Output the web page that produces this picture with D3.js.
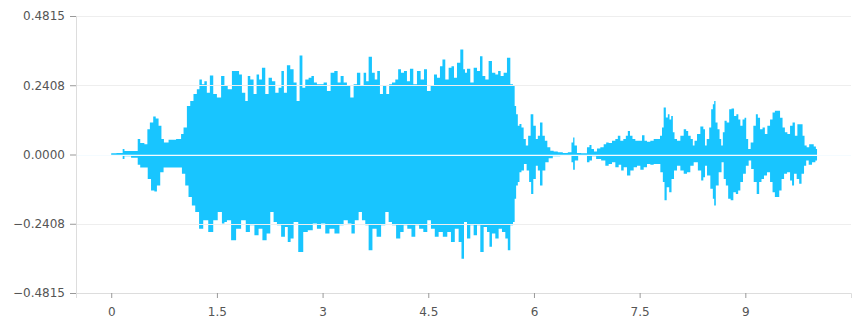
<!DOCTYPE html>
<html>
<head>
<meta charset="utf-8">
<script src="https://cdn.jsdelivr.net/npm/d3@7"></script>
<style>
  body { margin: 0; background: #fff; }
  svg { display: block; font-family: "DejaVu Sans", sans-serif; }
</style>
</head>
<body>
<svg id="chart" width="862" height="329"></svg>
<script>
// envelope of the waveform (seconds, amplitude)
const upperTimes = [
  0.00, 0.15, 0.175, 0.20, 0.364, 0.388, 0.435, 0.506, 0.52, 0.577, 0.615, 0.648, 0.696, 0.729, 0.767, 0.861, 0.98,
  1.003, 1.05, 1.098, 1.145, 1.19, 1.24, 1.263, 1.31, 1.334, 1.38, 1.42, 1.476, 1.524, 1.595,
  1.618, 1.689, 1.737, 1.798, 1.831, 1.879, 1.926, 1.95, 1.997, 2.044, 2.082, 2.115, 2.163, 2.21, 2.257, 2.305,
  2.352, 2.399, 2.432, 2.47, 2.517, 2.565, 2.612, 2.65, 2.697, 2.73, 2.778, 2.825, 2.858, 2.896, 2.943, 2.991,
  3.038, 3.085, 3.142, 3.19, 3.237, 3.275,
  3.322, 3.369, 3.417, 3.464, 3.511, 3.559, 3.606, 3.63, 3.677, 3.724, 3.757, 3.795, 3.833, 3.88, 3.928, 3.961,
  4.008, 4.056, 4.089, 4.136, 4.174, 4.221, 4.259, 4.316, 4.363, 4.42, 4.458, 4.505, 4.562, 4.60, 4.647, 4.685,
  4.718, 4.765, 4.813, 4.846, 4.884, 4.931, 4.978, 5.016,
  5.026, 5.073, 5.12, 5.168, 5.215, 5.253, 5.286, 5.333, 5.38, 5.428, 5.475, 5.508, 5.546, 5.593, 5.641, 5.688,
  5.717, 5.735, 5.759, 5.783, 5.806, 5.839, 5.868, 5.901, 5.934, 5.972, 6.01, 6.043, 6.067, 6.104, 6.138, 6.171,
  6.209, 6.256, 6.303, 6.374, 6.445, 6.516, 6.549, 6.563, 6.587, 6.634, 6.705,
  6.729, 6.776, 6.80, 6.833, 6.871, 6.918, 6.966, 7.013, 7.037, 7.084, 7.131, 7.179, 7.202, 7.25, 7.287, 7.321,
  7.344, 7.382, 7.415, 7.463, 7.51, 7.557, 7.581, 7.628, 7.676, 7.723, 7.77, 7.808, 7.827, 7.855, 7.889, 7.912,
  7.936, 7.96, 7.983, 8.007, 8.054, 8.102, 8.149, 8.172, 8.206, 8.243, 8.267, 8.291, 8.338, 8.385, 8.423,
  8.433, 8.471, 8.504, 8.527, 8.551, 8.565, 8.589, 8.622, 8.646, 8.669, 8.693, 8.717, 8.754, 8.788, 8.821, 8.859,
  8.887, 8.915, 8.944, 8.977, 9.001, 9.024, 9.057, 9.095, 9.133, 9.166, 9.19, 9.228, 9.261, 9.294, 9.332, 9.37,
  9.403, 9.436, 9.474, 9.512, 9.545, 9.578, 9.616, 9.654, 9.687, 9.72, 9.758, 9.796, 9.829, 9.852, 9.89, 9.923,
  9.957, 9.985, 10.018
];
const upperValues = [
  0.004, 0.005, 0.019, 0.012, 0.012, 0.054, 0.040, 0.036, 0.088, 0.111, 0.132, 0.125, 0.100, 0.054, 0.042, 0.051, 0.054,
  0.071, 0.094, 0.169, 0.186, 0.210, 0.227, 0.261, 0.244, 0.255, 0.215, 0.275, 0.210, 0.198, 0.273,
  0.238, 0.227, 0.290, 0.290, 0.278, 0.215, 0.186, 0.273, 0.261, 0.210, 0.278, 0.261, 0.302, 0.210, 0.267, 0.255,
  0.215, 0.232, 0.290, 0.215, 0.310, 0.296, 0.250, 0.186, 0.344, 0.232, 0.261, 0.267, 0.273, 0.250, 0.244, 0.244,
  0.250, 0.221, 0.284, 0.290, 0.250, 0.273,
  0.250, 0.238, 0.198, 0.244, 0.284, 0.238, 0.284, 0.255, 0.340, 0.284, 0.261, 0.290, 0.210, 0.238, 0.210, 0.244,
  0.250, 0.261, 0.296, 0.284, 0.290, 0.255, 0.298, 0.244, 0.290, 0.261, 0.296, 0.221, 0.238, 0.278, 0.267, 0.307,
  0.330, 0.261, 0.302, 0.307, 0.267, 0.319, 0.365, 0.296,
  0.284, 0.298, 0.250, 0.302, 0.290, 0.342, 0.273, 0.261, 0.325, 0.284, 0.278, 0.290, 0.273, 0.284, 0.336, 0.244,
  0.238, 0.169, 0.140, 0.100, 0.106, 0.094, 0.054, 0.031, 0.065, 0.140, 0.100, 0.054, 0.065, 0.111, 0.065, 0.048,
  0.025, 0.013, 0.010, 0.0075, 0.005, 0.0075, 0.042, 0.059, 0.031, 0.005, 0.004,
  0.004, 0.025, 0.033, 0.019, 0.010, 0.021, 0.025, 0.036, 0.042, 0.040, 0.048, 0.054, 0.065, 0.048, 0.054, 0.065,
  0.082, 0.065, 0.054, 0.048, 0.048, 0.067, 0.048, 0.044, 0.048, 0.054, 0.054, 0.065, 0.094, 0.163, 0.129, 0.140,
  0.122, 0.134, 0.077, 0.054, 0.048, 0.065, 0.088, 0.082, 0.065, 0.054, 0.031, 0.048, 0.071, 0.097, 0.088,
  0.031, 0.054, 0.094, 0.157, 0.175, 0.186, 0.111, 0.088, 0.054, 0.031, 0.077, 0.117, 0.111, 0.157, 0.160, 0.134,
  0.140, 0.122, 0.100, 0.122, 0.128, 0.054, 0.019, 0.042, 0.100, 0.140, 0.128, 0.088, 0.094, 0.071, 0.100, 0.122,
  0.146, 0.152, 0.152, 0.128, 0.094, 0.077, 0.071, 0.100, 0.111, 0.065, 0.105, 0.105, 0.065, 0.031, 0.025, 0.036,
  0.036, 0.028, 0.019
];

const lowerTimes = [
  0.00, 0.15, 0.175, 0.20, 0.364, 0.388, 0.435, 0.506, 0.53, 0.60, 0.625, 0.672, 0.719, 0.767, 0.861, 0.98,
  1.027, 1.074, 1.12, 1.169, 1.216, 1.278, 1.334, 1.42, 1.476, 1.547, 1.595,
  1.618, 1.666, 1.737, 1.808, 1.879, 1.94, 1.997, 2.068, 2.115, 2.177, 2.234, 2.281, 2.328, 2.376, 2.447, 2.484,
  2.527, 2.565, 2.612, 2.697, 2.754, 2.825, 2.896, 2.943, 3.014, 3.062, 3.133, 3.204, 3.275,
  3.322, 3.393, 3.426, 3.488, 3.535, 3.582, 3.63, 3.677, 3.738, 3.795, 3.866, 3.914, 3.961, 4.008, 4.079, 4.126,
  4.174, 4.231, 4.292, 4.339, 4.401, 4.458, 4.514, 4.562, 4.623, 4.671, 4.742, 4.798, 4.846, 4.907, 4.955, 4.988,
  5.026, 5.073, 5.12, 5.168, 5.215, 5.262, 5.31, 5.357, 5.38, 5.428, 5.475, 5.522, 5.57, 5.617, 5.641, 5.688,
  5.717, 5.735, 5.759, 5.783, 5.806, 5.839, 5.877, 5.915, 5.948, 5.972, 6.01, 6.043, 6.067, 6.104, 6.138, 6.185,
  6.232, 6.303, 6.445, 6.516, 6.549, 6.563, 6.597, 6.658,
  6.729, 6.776, 6.80, 6.847, 6.918, 6.989, 7.037, 7.084, 7.131, 7.179, 7.226, 7.25, 7.297, 7.344, 7.392, 7.439,
  7.486, 7.534, 7.581, 7.628, 7.676, 7.723, 7.77, 7.818, 7.841, 7.865, 7.903, 7.936, 7.969, 8.007, 8.054, 8.102,
  8.149, 8.196, 8.243, 8.291, 8.362, 8.385, 8.423,
  8.433, 8.48, 8.527, 8.551, 8.565, 8.598, 8.646, 8.679, 8.707, 8.74, 8.773, 8.811, 8.849, 8.882, 8.915, 8.944,
  8.991, 9.024, 9.071, 9.095, 9.143, 9.18, 9.213, 9.246, 9.284, 9.332, 9.37, 9.403, 9.436, 9.465, 9.498, 9.531,
  9.569, 9.616, 9.654, 9.673, 9.71, 9.748, 9.781, 9.815, 9.852, 9.876, 9.923, 9.971, 10.018
];
const lowerValues = [
  -0.004, -0.005, -0.016, -0.006, -0.011, -0.036, -0.045, -0.045, -0.085, -0.125, -0.129, -0.108, -0.062, -0.045, -0.045, -0.045,
  -0.067, -0.108, -0.148, -0.177, -0.200, -0.258, -0.229, -0.269, -0.229, -0.200, -0.240,
  -0.235, -0.229, -0.298, -0.258, -0.229, -0.269, -0.246, -0.281, -0.258, -0.298, -0.275, -0.200, -0.235, -0.246, -0.286, -0.252,
  -0.304, -0.292, -0.235, -0.339, -0.269, -0.263, -0.240, -0.258, -0.240, -0.275, -0.258, -0.275, -0.246,
  -0.229, -0.240, -0.275, -0.229, -0.200, -0.229, -0.246, -0.333, -0.258, -0.286, -0.246, -0.200, -0.235, -0.246, -0.292, -0.269,
  -0.246, -0.258, -0.286, -0.246, -0.258, -0.269, -0.229, -0.258, -0.286, -0.269, -0.286, -0.269, -0.304, -0.258, -0.304, -0.362,
  -0.235, -0.292, -0.246, -0.281, -0.246, -0.339, -0.252, -0.269, -0.321, -0.275, -0.292, -0.258, -0.269, -0.292, -0.333, -0.246,
  -0.235, -0.154, -0.108, -0.096, -0.062, -0.056, -0.033, -0.056, -0.096, -0.137, -0.085, -0.039, -0.056, -0.108, -0.056, -0.027,
  -0.013, -0.006, -0.004, -0.004, -0.027, -0.053, -0.021, -0.004,
  -0.004, -0.027, -0.021, -0.006, -0.016, -0.021, -0.039, -0.033, -0.027, -0.044, -0.036, -0.056, -0.044, -0.073, -0.056, -0.044,
  -0.039, -0.053, -0.044, -0.033, -0.036, -0.033, -0.033, -0.062, -0.096, -0.159, -0.114, -0.131, -0.085, -0.056, -0.039, -0.056,
  -0.067, -0.062, -0.039, -0.027, -0.056, -0.090, -0.079,
  -0.039, -0.073, -0.119, -0.154, -0.177, -0.108, -0.062, -0.027, -0.085, -0.108, -0.154, -0.159, -0.131, -0.137, -0.125, -0.096,
  -0.067, -0.039, -0.021, -0.050, -0.096, -0.137, -0.096, -0.085, -0.073, -0.062, -0.096, -0.131, -0.148, -0.148, -0.125, -0.085,
  -0.067, -0.062, -0.090, -0.108, -0.067, -0.085, -0.102, -0.067, -0.039, -0.021, -0.036, -0.027, -0.021
];

const yTicks = [-0.4815, -0.2408, 0, 0.2408, 0.4815];
const xTicks = [0, 1.5, 3, 4.5, 6, 7.5, 9];

const width = 862, height = 329;
const margin = { top: 16, right: 11, bottom: 36, left: 76 };

const svg = d3.select("#chart");

const x = d3.scaleLinear().domain([-0.5, 10.5]).range([margin.left, width - margin.right]);
const y = d3.scaleLinear().domain([-0.4815, 0.4815]).range([height - margin.bottom, margin.top]);

const upper = upperTimes.map((t, i) => ({ t, v: upperValues[i] }));
const lower = lowerTimes.map((t, i) => ({ t, v: lowerValues[i] }));

// stepped edges keep the spiky bar look of a sampled waveform
const area = d3.area()
  .x(d => x(d.t))
  .y0(y(0))
  .y1(d => y(d.v))
  .curve(d3.curveStep);

const wave = svg.append("g");
wave.append("path").datum(upper).attr("d", area).attr("fill", "#18c5ff");
wave.append("path").datum(lower).attr("d", area).attr("fill", "#18c5ff");

// grid lines sit over the waveform
svg.append("g")
  .selectAll("line")
  .data(yTicks.filter(v => v !== -0.4815))
  .join("line")
  .attr("x1", margin.left)
  .attr("x2", width - margin.right)
  .attr("y1", d => Math.round(y(d)) + 0.5)
  .attr("y2", d => Math.round(y(d)) + 0.5)
  .attr("stroke", d => d === 0 ? "#f4fbff" : "#eeeeee")
  .attr("stroke-width", 1);

const yAxis = svg.append("g")
  .attr("transform", `translate(${margin.left},0)`)
  .call(d3.axisLeft(y).tickValues(yTicks).tickFormat(d3.format(".4f")).tickSize(6).tickPadding(5));

const xAxis = svg.append("g")
  .attr("transform", `translate(0,${height - margin.bottom})`)
  .call(d3.axisBottom(x).tickValues(xTicks).tickFormat(d => String(d)).tickSize(5).tickPadding(9));

[yAxis, xAxis].forEach(g => {
  g.select(".domain").attr("stroke", "#dddddd");
  g.selectAll(".tick line").attr("stroke", "#999999");
  g.selectAll(".tick text").attr("fill", "#555555").attr("font-size", 12)
    .attr("font-family", "'DejaVu Sans', sans-serif");
});
</script>
</body>
</html>
